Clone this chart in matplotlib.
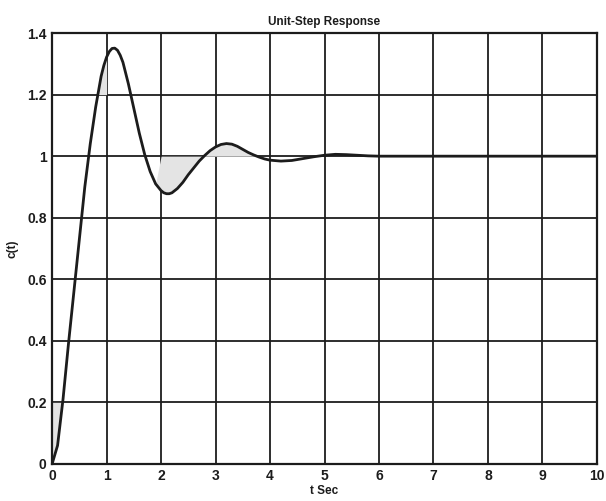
import numpy as np
import matplotlib
matplotlib.use("Agg")
import matplotlib.pyplot as plt

# step response
t = [0, 0.1, 0.2, 0.3, 0.4, 0.5, 0.6, 0.7, 0.8, 0.9, 0.95, 1.0, 1.05, 1.1,
     1.15, 1.2, 1.25, 1.3, 1.4, 1.5, 1.6, 1.7, 1.8, 1.9, 2.0, 2.05, 2.1, 2.15,
     2.2, 2.3, 2.4, 2.5, 2.6, 2.7, 2.8, 2.9, 3.0, 3.1, 3.2, 3.3, 3.4, 3.5, 3.6,
     3.7, 3.8, 3.9, 4.0, 4.2, 4.4, 4.6, 4.8, 5.0, 5.2, 5.4, 5.6, 5.8, 6.0, 7.0,
     8.0, 9.0, 10.0]
c = [0, 0.06, 0.21, 0.39, 0.56, 0.73, 0.90, 1.04, 1.16, 1.26, 1.295, 1.322,
     1.340, 1.350, 1.351, 1.344, 1.328, 1.305, 1.235, 1.155, 1.075, 1.005, 0.950,
     0.910, 0.888, 0.881, 0.878, 0.878, 0.881, 0.895, 0.915, 0.94, 0.962, 0.984,
     1.002, 1.018, 1.03, 1.038, 1.041, 1.039, 1.032, 1.022, 1.012, 1.004, 0.997,
     0.991, 0.987, 0.984, 0.986, 0.992, 0.998, 1.003, 1.006, 1.005, 1.003,
     1.001, 1.0, 1.0, 1.0, 1.0, 1.0]

xticks = list(range(0, 11))
yticks = [0, 0.2, 0.4, 0.6, 0.8, 1.0, 1.2, 1.4]
ylabels = ["0", "0.2", "0.4", "0.6", "0.8", "1", "1.2", "1.4"]

plt.rcParams['font.family'] = ['Liberation Sans', 'DejaVu Sans']
ink = '#1c1c1c'
shade = '#e4e4e4'

tt = np.array(t)
cc = np.array(c)

fig = plt.figure(figsize=(6.06, 5.01), dpi=100)
ax = fig.add_axes([0.086, 0.074, 0.899, 0.86])

# light pencil shading from the scan
ax.fill_between(tt, 1.2, cc, where=(tt >= 0.8) & (tt <= 1.0) & (cc >= 1.2),
                color=shade, lw=0, interpolate=True)
ax.fill_between(tt, cc, 1.0, where=(tt >= 2.0) & (tt <= 2.8),
                color=shade, lw=0, interpolate=True)
ax.fill_between(tt, 1.0, cc, where=(tt >= 2.8) & (tt <= 3.8),
                color=shade, lw=0, interpolate=True)
ax.fill_between(tt, cc, 0.2, where=(tt <= 0.2),
                color=shade, lw=0, interpolate=True)

ax.plot(t, c, color=ink, lw=2.0, zorder=3)

ax.set_xlim(0, 10)
ax.set_ylim(0, 1.4)
ax.set_xticks(xticks)
ax.set_yticks(yticks)
ax.set_yticklabels(ylabels)
ax.grid(True, color=ink, lw=1.3, ls='-')
ax.set_axisbelow(True)
ax.tick_params(length=0, pad=4, labelsize=10, colors=ink)
for lab in ax.get_xticklabels() + ax.get_yticklabels():
    lab.set_fontweight('bold')
for s in ax.spines.values():
    s.set_linewidth(1.6)
    s.set_color(ink)

ax.set_title('Unit-Step Response', fontsize=8.5, fontweight='bold', color=ink, pad=6)
ax.set_xlabel('t Sec', fontsize=8.5, fontweight='bold', color=ink, labelpad=1)
ax.set_ylabel('c(t)', fontsize=8.5, fontweight='bold', color=ink, labelpad=6)

fig.savefig('out.png', dpi=100)
